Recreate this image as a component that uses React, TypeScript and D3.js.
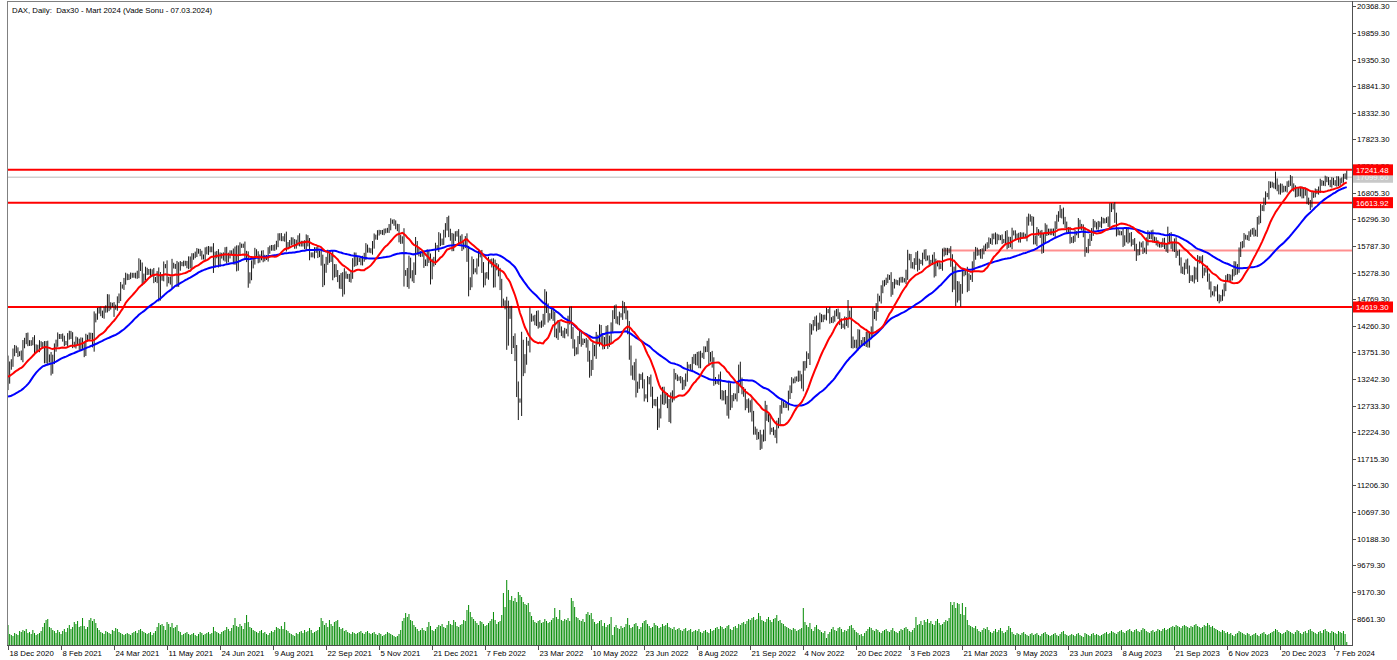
import React from "react";
import * as d3 from "d3";

const TITLE = "DAX, Daily:  Dax30 - Mart 2024 (Vade Sonu - 07.03.2024)";

const dateLabels = [
  "18 Dec 2020", "8 Feb 2021", "24 Mar 2021", "11 May 2021", "24 Jun 2021", "9 Aug 2021",
  "22 Sep 2021", "5 Nov 2021", "21 Dec 2021", "7 Feb 2022", "23 Mar 2022", "10 May 2022",
  "23 Jun 2022", "8 Aug 2022", "21 Sep 2022", "4 Nov 2022", "20 Dec 2022", "3 Feb 2023",
  "21 Mar 2023", "9 May 2023", "23 Jun 2023", "8 Aug 2023", "21 Sep 2023", "6 Nov 2023",
  "20 Dec 2023", "7 Feb 2024",
];
const barsPerLabel = 32;

const priceTicks = [
  20368.3, 19859.3, 19350.3, 18841.3, 18332.3, 17823.3, 17314.3, 16805.3, 16296.3, 15787.3,
  15278.3, 14769.3, 14260.3, 13751.3, 13242.3, 12733.3, 12224.3, 11715.3, 11206.3, 10697.3,
  10188.3, 9679.3, 9170.3, 8661.3,
];

// closes before the first visible bar (only feed the moving averages)
const preCloses = [
  13040, 13050, 13140, 13020, 13030, 12700, 12910, 12850, 12740, 12560,
  12540, 12650, 12180, 12060, 11560, 11600, 11560, 11790, 12090, 12320,
  12570, 12480, 13100, 13160, 13220, 13050, 13080, 13140, 13130, 13200,
  13090, 13140, 13130, 13290, 13290, 13290, 13340, 13290, 13380, 13310,
  13250, 13300, 13270, 13280, 13340, 13300, 13110, 13220, 13360, 13570,
];

const closes = [
  13250, 13480, 13560, 13740, 13830, 13790, 13720, 13730, 13660, 13890,
  13970, 14060, 13940, 13920, 13940, 13990, 13790, 13850, 13820, 13920,
  13900, 13870, 13640, 13870, 13610, 13660, 13430, 13620, 13830, 13930,
  14060, 14050, 14060, 14010, 13930, 13930, 14050, 14110, 14060, 13910,
  13890, 13990, 13950, 13860, 13970, 13880, 13780, 14010, 14040, 14080,
  14050, 13920, 14380, 14440, 14540, 14570, 14500, 14460, 14560, 14600,
  14780, 14620, 14660, 14660, 14610, 14620, 14750, 14820, 15010, 15010,
  15110, 15210, 15180, 15200, 15230, 15220, 15230, 15210, 15260, 15460,
  15370, 15130, 15200, 15320, 15280, 15300, 15250, 15290, 15150, 15140,
  15240, 14860, 15170, 15200, 15400, 15400, 15120, 15150, 15100, 15420,
  15400, 15390, 15110, 15370, 15440, 15440, 15460, 15450, 15410, 15520,
  15420, 15570, 15600, 15630, 15690, 15680, 15640, 15580, 15570, 15690,
  15670, 15730, 15710, 15730, 15450, 15600, 15640, 15460, 15590, 15610,
  15560, 15690, 15530, 15600, 15650, 15660, 15510, 15690, 15420, 15690,
  15790, 15790, 15790, 15630, 15540, 15130, 15220, 15420, 15510, 15670,
  15620, 15520, 15570, 15640, 15540, 15570, 15560, 15690, 15740, 15760,
  15740, 15770, 15830, 15940, 15980, 15930, 15920, 15970, 15770, 15810,
  15850, 15900, 15860, 15790, 15850, 15930, 15840, 15820, 15840, 15780,
  15930, 15840, 15610, 15620, 15610, 15700, 15720, 15620, 15650, 15490,
  15130, 15350, 15500, 15640, 15530, 15570, 15250, 15370, 15260, 15160,
  15040, 15190, 14970, 15250, 15210, 15200, 15150, 15250, 15460, 15590,
  15470, 15520, 15520, 15470, 15540, 15600, 15760, 15710, 15700, 15690,
  15810, 15950, 15960, 16030, 16050, 16050, 16040, 16070, 16080, 16090,
  16150, 16250, 16250, 16220, 16160, 16120, 15940, 15880, 15920, 15260,
  15280, 15100, 15470, 15260, 15170, 15380, 15810, 15690, 15640, 15620,
  15620, 15450, 15480, 15640, 15530, 15240, 15450, 15520, 15750, 15760,
  15960, 15850, 15880, 16020, 16150, 16270, 16050, 15950, 15770, 15940,
  16010, 16030, 15880, 15930, 15770, 15810, 15910, 15600, 15010, 15120,
  15460, 15320, 15320, 15470, 15620, 15610, 15370, 15100, 15210, 15240,
  15480, 15490, 15430, 15110, 15410, 15370, 15270, 15040, 14730, 14690,
  14630, 14050, 14570, 14460, 13900, 14000, 13700, 13090, 12830, 12830,
  13850, 13440, 13630, 13930, 13920, 14440, 14390, 14410, 14330, 14470,
  14290, 14270, 14310, 14420, 14820, 14600, 14410, 14450, 14520, 14420,
  14150, 14080, 14280, 14190, 14120, 14080, 14160, 14150, 14360, 14500,
  14140, 13920, 13760, 13800, 13980, 14100, 13940, 13970, 13970, 13900,
  13670, 13380, 13530, 13830, 13740, 14030, 13960, 14190, 14010, 13880,
  13980, 14170, 13920, 14010, 14230, 14460, 14580, 14390, 14340, 14460,
  14460, 14650, 14560, 14450, 14200, 13760, 13430, 13300, 13480, 13040,
  13130, 13270, 13290, 13140, 12910, 12910, 13190, 13230, 13000, 12780,
  12810, 12770, 12400, 12590, 12840, 13010, 12830, 12900, 12760, 12520,
  12860, 12960, 13310, 13280, 13250, 13250, 13210, 13100, 13170, 13280,
  13480, 13480, 13450, 13590, 13660, 13570, 13690, 13530, 13700, 13690,
  13800, 13820, 13910, 13630, 13700, 13540, 13230, 13190, 13190, 13270,
  12970, 12890, 12960, 12830, 12630, 13050, 12760, 12870, 12920, 12900,
  13090, 13400, 13190, 13030, 12960, 12740, 12800, 12670, 12770, 12530,
  12280, 12230, 12140, 12180, 11980, 12110, 12210, 12670, 12520, 12470,
  12270, 12270, 12220, 12170, 12360, 12440, 12650, 12770, 12740, 12730,
  12730, 12930, 13050, 13200, 13210, 13240, 13250, 13340, 13260, 13130,
  13460, 13530, 13690, 13670, 14150, 14230, 14310, 14380, 14230, 14270,
  14430, 14380, 14420, 14430, 14540, 14540, 14380, 14360, 14400, 14490,
  14530, 14450, 14340, 14260, 14260, 14370, 14310, 14500, 14460, 13990,
  13890, 13940, 13880, 14100, 13910, 13940, 13990, 13930, 14070, 13920,
  14070, 14180, 14490, 14440, 14610, 14790, 14770, 14950, 15060, 15090,
  15130, 15190, 15180, 14920, 15030, 15100, 15090, 15080, 15130, 15150,
  15130, 15130, 15260, 15590, 15560, 15430, 15400, 15490, 15600, 15390,
  15480, 15480, 15590, 15660, 15560, 15550, 15480, 15480, 15560, 15290,
  15460, 15440, 15390, 15410, 15640, 15700, 15660, 15700, 15690, 15480,
  15050, 15290, 14800, 15020, 14830, 14980, 15250, 15270, 15280, 15010,
  15180, 15190, 15400, 15590, 15700, 15650, 15670, 15600, 15680, 15740,
  15780, 15810, 15890, 15870, 15960, 15980, 15880, 15960, 15940, 15950,
  15880, 15880, 16000, 15810, 15900, 15820, 16040, 16030, 15970, 15980,
  15910, 15990, 16000, 15980, 15980, 16240, 16340, 16300, 16230, 15930,
  15870, 16060, 16030, 15990, 15740, 15930, 16130, 16040, 16070, 16040,
  16070, 16030, 16180, 16310, 16390, 16370, 16440, 16280, 16190, 16100,
  16070, 15910, 15890, 15930, 16030, 16030, 16230, 16160, 16130, 16020,
  15700, 15720, 15850, 15950, 16060, 16220, 16190, 16150, 16210, 16190,
  16280, 16260, 16270, 16290, 16210, 16490, 16550, 16530, 16320, 16070,
  16040, 16030, 16030, 15850, 15930, 16070, 15910, 15980, 15850, 15870,
  15760, 15650, 15680, 15800, 15810, 15700, 15710, 15870, 16010, 15970,
  16030, 15920, 15900, 15850, 15820, 15800, 15820, 15880, 15790, 15730,
  15880, 15970, 15810, 15740, 15860, 15650, 15640, 15490, 15340, 15300,
  15400, 15470, 15330, 15160, 15180, 15150, 15310, 15210, 15500, 15540,
  15510, 15270, 15320, 15330, 15180, 15030, 14880, 14880, 14960, 14970,
  14810, 14770, 14800, 14890, 15000, 15150, 15200, 15160, 15190, 15280,
  15420, 15300, 15380, 15650, 15790, 15830, 15960, 15950, 15940, 16010,
  16050, 16080, 16020, 16050, 16250, 16310, 16500, 16520, 16640, 16760,
  16760, 16940, 16970, 16950, 16930, 17010, 16900, 16830, 16920, 16860,
  16890, 16870, 16960, 16990, 17050, 16930, 16880, 16780, 16850, 16790,
  16860, 16760, 16850, 16800, 16660, 16620, 16600, 16750, 16770, 16830,
  16820, 16870, 17000, 16980, 16990, 17070, 17050, 17000, 16960, 17040,
  17000, 16980, 17060, 16990, 17030, 17050, 17110, 17130, 17100,
];

// intraday extremes visible as long wicks
const lowSpikes: [number, number][] = [
  [0, 13030], [26, 13310], [46, 13660], [64, 14430], [91, 14820], [124, 15270], [138, 15300],
  [145, 15040], [190, 15010], [202, 14816], [239, 15010], [241, 15000], [255, 15050],
  [278, 14850], [301, 13800], [308, 12458], [351, 13380], [392, 12394], [454, 11885],
  [464, 12012], [575, 14625], [650, 15580], [681, 15500], [731, 14689], [786, 16474],
];
const highSpikes: [number, number][] = [
  [11, 14115], [37, 14150], [79, 15518], [120, 15773], [140, 15805], [163, 16028], [176, 16028],
  [232, 16290], [265, 16290], [324, 14944], [339, 14625], [371, 14721], [423, 13988],
  [442, 13573], [507, 14752], [617, 16378], [635, 16569], [666, 16601], [700, 16155],
  [765, 17207], [774, 17143], [808, 17226],
];

// thousand contracts
const volumes = [
  80, 44, 40, 36, 48, 44, 40, 56, 52, 60,
  56, 64, 48, 52, 44, 60, 48, 40, 44, 48,
  56, 72, 88, 100, 104, 72, 68, 60, 56, 48,
  60, 52, 44, 56, 64, 52, 68, 80, 64, 72,
  92, 84, 96, 72, 76, 108, 76, 64, 72, 100,
  108, 96, 104, 88, 68, 60, 52, 48, 44, 56,
  52, 48, 44, 60, 56, 68, 64, 52, 48, 44,
  40, 44, 48, 44, 40, 48, 52, 56, 48, 60,
  64, 56, 52, 48, 44, 48, 52, 40, 48, 56,
  72, 88, 80, 84, 76, 60, 92, 84, 72, 88,
  68, 72, 80, 56, 52, 40, 44, 48, 52, 44,
  40, 44, 48, 40, 36, 44, 52, 48, 40, 44,
  48, 52, 44, 48, 72, 56, 52, 48, 44, 52,
  56, 60, 72, 64, 56, 68, 80, 108, 76, 72,
  84, 76, 64, 88, 120, 92, 72, 68, 60, 56,
  52, 48, 56, 60, 48, 52, 44, 40, 48, 56,
  52, 60, 72, 68, 64, 76, 64, 92, 60, 56,
  48, 44, 40, 36, 48, 44, 52, 56, 48, 60,
  52, 56, 68, 60, 48, 52, 56, 60, 72, 108,
  96, 80, 88, 72, 100, 84, 76, 92, 96, 100,
  72, 64, 68, 56, 60, 52, 48, 44, 52, 48,
  44, 48, 52, 56, 48, 44, 52, 56, 48, 44,
  48, 52, 44, 40, 48, 44, 36, 40, 44, 52,
  48, 44, 40, 36, 32, 36, 44, 60, 96, 108,
  128, 112, 124, 100, 96, 80, 72, 64, 56, 60,
  68, 60, 56, 72, 92, 76, 60, 56, 64, 72,
  80, 76, 84, 72, 68, 80, 96, 84, 80, 100,
  92, 76, 72, 80, 84, 100, 96, 140, 160, 132,
  112, 104, 96, 88, 80, 96, 92, 84, 76, 80,
  88, 96, 104, 132, 100, 84, 92, 96, 120, 208,
  152, 260, 220, 180, 196, 176, 188, 172, 212, 200,
  192, 172, 164, 160, 168, 132, 116, 100, 92, 88,
  96, 100, 88, 92, 104, 96, 88, 92, 100, 108,
  148, 112, 104, 140, 100, 96, 104, 100, 108, 96,
  188, 176, 152, 112, 108, 100, 96, 104, 92, 124,
  132, 120, 128, 104, 92, 84, 88, 96, 100, 76,
  88, 72, 80, 84, 112, 40, 72, 80, 68, 64,
  76, 68, 72, 84, 108, 80, 68, 72, 84, 88,
  76, 64, 72, 88, 96, 100, 84, 76, 68, 72,
  88, 80, 76, 68, 72, 84, 76, 80, 88, 72,
  68, 64, 72, 60, 64, 68, 60, 56, 64, 68,
  56, 60, 64, 52, 56, 60, 56, 64, 52, 48,
  56, 60, 52, 48, 64, 56, 60, 68, 72, 64,
  76, 72, 64, 68, 76, 80, 64, 60, 72, 76,
  68, 84, 80, 88, 92, 84, 96, 104, 100, 108,
  112, 100, 104, 128, 116, 100, 96, 92, 104, 112,
  100, 92, 104, 108, 120, 96, 100, 88, 84, 76,
  72, 68, 64, 60, 68, 64, 56, 60, 64, 68,
  148, 92, 80, 72, 88, 64, 56, 72, 80, 64,
  60, 52, 48, 56, 28, 44, 52, 64, 72, 60,
  56, 68, 72, 64, 52, 60, 56, 64, 76, 80,
  68, 60, 52, 48, 40, 44, 36, 48, 56, 64,
  72, 68, 60, 56, 64, 60, 52, 48, 56, 60,
  64, 56, 52, 60, 68, 56, 52, 48, 56, 64,
  60, 68, 72, 64, 56, 52, 60, 68, 112, 80,
  84, 96, 80, 100, 92, 104, 88, 96, 84, 80,
  96, 104, 88, 80, 84, 92, 100, 96, 108, 172,
  160, 172, 148, 168, 164, 124, 168, 120, 152, 100,
  80, 76, 72, 68, 76, 64, 56, 52, 60, 68,
  64, 72, 60, 52, 48, 56, 64, 52, 60, 68,
  56, 48, 52, 60, 76, 68, 52, 44, 40, 48,
  44, 40, 48, 52, 44, 40, 36, 44, 48, 40,
  44, 48, 40, 36, 44, 48, 52, 44, 40, 36,
  40, 44, 48, 40, 36, 44, 52, 56, 44, 40,
  36, 40, 44, 40, 36, 44, 48, 40, 36, 32,
  48, 44, 40, 36, 44, 48, 40, 44, 40, 36,
  40, 44, 48, 52, 44, 48, 56, 52, 48, 44,
  52, 56, 60, 52, 48, 56, 60, 64, 56, 52,
  60, 64, 56, 52, 60, 68, 64, 56, 52, 48,
  56, 60, 52, 56, 64, 60, 56, 64, 68, 60,
  64, 68, 72, 76, 72, 80, 76, 72, 68, 76,
  80, 76, 72, 68, 76, 72, 80, 84, 76, 72,
  68, 72, 80, 76, 88, 80, 72, 76, 68, 64,
  60, 56, 52, 60, 56, 48, 52, 44, 48, 40,
  36, 44, 48, 56, 52, 48, 44, 40, 48, 44,
  36, 40, 44, 48, 40, 36, 44, 48, 52, 44,
  40, 44, 48, 52, 56, 64, 60, 52, 48, 44,
  48, 52, 60, 56, 52, 48, 44, 52, 60, 56,
  48, 44, 52, 56, 48, 60, 64, 56, 52, 48,
  44, 52, 56, 48, 60, 64, 56, 52, 48, 56,
  52, 48, 44, 56, 52, 48, 56, 44, 12,
];

const supportLevels = [17241.48, 16613.92, 14619.3];
const zoneLevel = 15700;
const zoneStartBar = 564;
const bidPrice = 17099.6;
const fastPeriod = 20;
const slowPeriod = 50;

const W = 1397;
const H = 660;
const LEFT = 7;
const RIGHT = 1352;
const TOP = 1;
const BOTTOM = 645;
const FONT = "'Liberation Sans', Arial, sans-serif";
const FS = 7.8;

export default function App() {
  const x = d3.scaleLinear().domain([0, 800]).range([8, 1333.5]);
  const y = d3.scaleLinear().domain([8661.3, 20368.3]).range([618.6, 6.3]);
  const vMax = d3.max(volumes) as number;
  const yv = d3.scaleLinear().domain([0, vMax]).range([BOTTOM, BOTTOM - 65]);

  const lowMap = new Map(lowSpikes);
  const highMap = new Map(highSpikes);
  const all = preCloses.concat(closes);
  const off = preCloses.length;

  const bars = closes.map((c, i) => {
    const o = all[off + i - 1];
    const wick = 40 + 0.25 * Math.abs(c - o);
    let hi = Math.max(o, c) + wick;
    let lo = Math.min(o, c) - wick;
    if (highMap.has(i)) hi = Math.max(hi, highMap.get(i) as number);
    if (lowMap.has(i)) lo = Math.min(lo, lowMap.get(i) as number);
    return { i, o, c, hi, lo };
  });

  const sma = (n: number) =>
    closes.map((_, i) => {
      const k = off + i;
      const slice = all.slice(k - n + 1, k + 1);
      return { i, v: d3.mean(slice) as number };
    });
  const line = d3
    .line<{ i: number; v: number }>()
    .x((d) => x(d.i))
    .y((d) => y(d.v))
    .curve(d3.curveLinear);
  const fast = sma(fastPeriod);
  const slow = sma(slowPeriod);

  return (
    <div style={{ position: "fixed", left: 0, top: 0 }}>
      <svg width={W} height={H} style={{ display: "block", background: "#fff" }}>
        <defs>
          <clipPath id="plot">
            <rect x={LEFT + 1} y={TOP + 1} width={RIGHT - LEFT - 1} height={BOTTOM - TOP - 1} />
          </clipPath>
        </defs>
        <rect x={0} y={0} width={W} height={H} fill="#fff" />
        <g clipPath="url(#plot)">
          {/* volumes */}
          {volumes.map((v, i) => (
            <line
              key={"v" + i}
              x1={x(i)}
              x2={x(i)}
              y1={BOTTOM}
              y2={yv(v)}
              stroke="#008a00"
              strokeWidth={1}
            />
          ))}
          {/* horizontal levels */}
          <line x1={LEFT} x2={RIGHT} y1={y(bidPrice)} y2={y(bidPrice)} stroke="#d0d0d0" strokeWidth={1.5} />
          <line x1={x(zoneStartBar)} x2={RIGHT} y1={y(zoneLevel)} y2={y(zoneLevel)} stroke="#ff8f8f" strokeWidth={2} />
          {supportLevels.map((lv) => (
            <line key={lv} x1={LEFT} x2={RIGHT} y1={y(lv)} y2={y(lv)} stroke="#ff0000" strokeWidth={2} />
          ))}
          {/* price bars */}
          {bars.map((b) => (
            <line
              key={"b" + b.i}
              x1={x(b.i)}
              x2={x(b.i)}
              y1={y(b.hi)}
              y2={y(b.lo)}
              stroke="#1a1a1a"
              strokeWidth={1}
            />
          ))}
          <path d={line(slow) || ""} fill="none" stroke="#0000ff" strokeWidth={2} />
          <path d={line(fast) || ""} fill="none" stroke="#ff0000" strokeWidth={2} />
        </g>
        {/* frame */}
        <line x1={LEFT + 0.5} x2={LEFT + 0.5} y1={TOP} y2={BOTTOM} stroke="#808080" strokeWidth={1} />
        <line x1={LEFT} x2={W} y1={TOP + 0.5} y2={TOP + 0.5} stroke="#808080" strokeWidth={1} />
        <line x1={RIGHT + 0.5} x2={RIGHT + 0.5} y1={TOP} y2={BOTTOM + 1} stroke="#505050" strokeWidth={1} />
        <line x1={LEFT} x2={RIGHT + 1} y1={BOTTOM + 0.5} y2={BOTTOM + 0.5} stroke="#505050" strokeWidth={1} />
        <text x={12} y={12.5} fontFamily={FONT} fontSize={FS} fill="#000" style={{ whiteSpace: "pre" }}>
          {TITLE}
        </text>
        {/* price axis */}
        {priceTicks.map((p) => (
          <g key={"p" + p}>
            <line x1={RIGHT} x2={RIGHT + 4} y1={Math.round(y(p)) + 0.5} y2={Math.round(y(p)) + 0.5} stroke="#505050" />
            <text x={RIGHT + 5} y={y(p) + 3} fontFamily={FONT} fontSize={FS} fill="#000">
              {p.toFixed(2)}
            </text>
          </g>
        ))}
        {/* bid label */}
        <rect x={RIGHT + 1} y={y(bidPrice) - 5.5} width={40} height={11} fill="#c8c8c8" />
        <text x={RIGHT + 4} y={y(bidPrice) + 3} fontFamily={FONT} fontSize={FS} fill="#f4f4f4">
          {bidPrice.toFixed(2)}
        </text>
        {supportLevels.map((lv) => (
          <g key={"l" + lv}>
            <rect x={RIGHT + 1} y={y(lv) - 5.5} width={40} height={11} fill="#ff0000" />
            <text x={RIGHT + 4} y={y(lv) + 3} fontFamily={FONT} fontSize={FS} fill="#fff">
              {lv.toFixed(2)}
            </text>
          </g>
        ))}
        {/* time axis */}
        {dateLabels.map((d, k) => {
          const xx = Math.round(x(k * barsPerLabel)) + 0.5;
          return (
            <g key={d}>
              <line x1={xx} x2={xx} y1={BOTTOM} y2={BOTTOM + 5} stroke="#505050" />
              <text x={xx + 1} y={656} fontFamily={FONT} fontSize={FS} fill="#000">
                {d}
              </text>
            </g>
          );
        })}
      </svg>
    </div>
  );
}
